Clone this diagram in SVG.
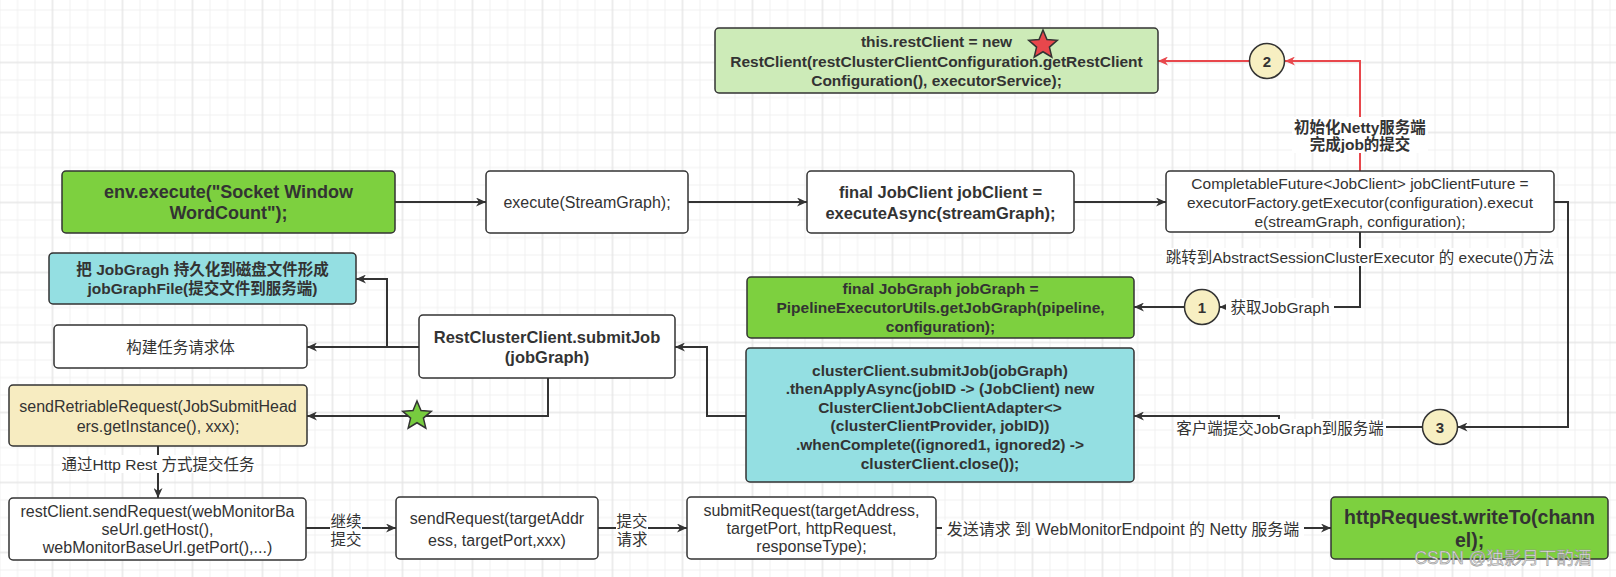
<svg xmlns="http://www.w3.org/2000/svg" width="1616" height="577" viewBox="0 0 1616 577">
<defs>
<pattern id="grid" x="52.5" y="62.5" width="70" height="70" patternUnits="userSpaceOnUse">
<path d="M17.5 0V70M35 0V70M52.5 0V70M0 17.5H70M0 35H70M0 52.5H70" stroke="#f0f0f0" stroke-width="1" fill="none"/>
<path d="M0 0V70M70 0V70M0 0H70M0 70H70" stroke="#e6e6e6" stroke-width="1.5" fill="none"/>
</pattern>
<marker id="arr" viewBox="0 0 10 9" refX="10" refY="4.5" markerWidth="10" markerHeight="9" markerUnits="userSpaceOnUse" orient="auto"><path d="M0 0L10 4.5L0 9L3 4.5Z" fill="#333"/></marker>
<marker id="arrRed" viewBox="0 0 10 9" refX="10" refY="4.5" markerWidth="10" markerHeight="9" markerUnits="userSpaceOnUse" orient="auto"><path d="M0 0L10 4.5L0 9L3 4.5Z" fill="#e8474c"/></marker>
<path id="star" d="M0 -15L3.97 -5.46L14.27 -4.64L6.42 2.09L8.82 12.14L0 6.75L-8.82 12.14L-6.42 2.09L-14.27 -4.64L-3.97 -5.46Z"/>
<style>
.box{stroke:#333;stroke-width:1.5}
.w{fill:#fff}
.g{fill:#7dd03f}
.cy{fill:#94dfe2}
.lg{fill:#cdebb8}
.y{fill:#f7ecc1}
.t{font-family:"Liberation Sans","Noto Sans CJK SC",sans-serif;fill:#333;text-anchor:middle;dominant-baseline:central;font-size:16px}
.b{font-weight:bold}
.c{fill:none;stroke:#333;stroke-width:2;marker-end:url(#arr)}
.r{fill:none;stroke:#e8474c;stroke-width:2;marker-end:url(#arrRed)}
.lbg{fill:#fff}
.lb{font-size:15.5px}
.circ{fill:#f7efc2;stroke:#333;stroke-width:1.5}
</style>
</defs>
<rect width="1616" height="577" fill="#fff"/>
<rect width="1616" height="577" fill="url(#grid)"/>

<g id="connectors">
<path class="c" d="M395 202H486"/>
<path class="c" d="M688 202H807"/>
<path class="c" d="M1074 202H1166"/>
<path class="c" d="M1360 232V307H1219.5"/>
<path class="c" d="M1184.5 307H1134"/>
<path class="c" d="M1554 202H1568V427H1457.5"/>
<path class="c" d="M1422.5 427H1279V416H1134"/>
<path class="c" d="M746 416H707V347H675"/>
<path class="c" d="M419 347H307"/>
<path class="c" d="M387 347V279H356"/>
<path class="c" d="M548 378V416H307"/>
<path class="c" d="M158 446V498"/>
<path class="c" d="M306 528H396"/>
<path class="c" d="M598 528H687"/>
<path class="c" d="M936 528H1331"/>
<path class="r" d="M1360 171V61H1285"/>
<path class="r" d="M1249 61H1158"/>
<g id="labels">
<rect class="lbg" x="1292" y="117" width="136" height="36"/>
<text class="t b lb" x="1360" y="127">初始化Netty服务端</text>
<text class="t b lb" x="1360" y="144">完成job的提交</text>
<rect class="lbg" x="1162" y="248" width="396" height="18"/>
<text class="t lb" x="1360" y="257">跳转到AbstractSessionClusterExecutor 的 execute()方法</text>
<rect class="lbg" x="1226" y="298" width="108" height="18"/>
<text class="t lb" x="1280" y="307">获取JobGraph</text>
<rect class="lbg" x="1174" y="419" width="212" height="18"/>
<text class="t lb" x="1280" y="428">客户端提交JobGraph到服务端</text>
<rect class="lbg" x="60" y="455" width="196" height="18"/>
<text class="t lb" x="158" y="464">通过Http Rest 方式提交任务</text>
<rect class="lbg" x="330" y="512" width="32" height="36"/>
<text class="t lb" x="346" y="521">继续</text>
<text class="t lb" x="346" y="539">提交</text>
<rect class="lbg" x="616" y="512" width="32" height="36"/>
<text class="t lb" x="632" y="521">提交</text>
<text class="t lb" x="632" y="539">请求</text>
<rect class="lbg" x="942" y="520" width="362" height="18"/>
<text class="t" x="1123" y="529">发送请求 到 WebMonitorEndpoint 的 Netty 服务端</text>
</g>
<use href="#star" x="417" y="416" fill="#77cc3f" stroke="#333" stroke-width="1.5"/>
</g>

<g id="n-restclient">
<rect class="box lg" x="715" y="28" width="443" height="65" rx="4"/>
<text class="t b" style="font-size:15.5px" x="936.5" y="41.5">this.restClient = new</text>
<text class="t b" style="font-size:15.5px" x="936.5" y="61">RestClient(restClusterClientConfiguration.getRestClient</text>
<text class="t b" style="font-size:15.5px" x="936.5" y="80.5">Configuration(), executorService);</text>
<use href="#star" x="1043" y="45" fill="#e8474c" stroke="#333" stroke-width="1.5"/>
</g>

<g id="n-env">
<rect class="box g" x="62" y="171" width="333" height="62" rx="4"/>
<text class="t b" style="font-size:18px" x="228.5" y="191.5">env.execute("Socket Window</text>
<text class="t b" style="font-size:18px" x="228.5" y="212.5">WordCount");</text>
</g>

<g id="n-execute">
<rect class="box w" x="486" y="171" width="202" height="62" rx="4"/>
<text class="t" x="587" y="202">execute(StreamGraph);</text>
</g>

<g id="n-jobclient">
<rect class="box w" x="807" y="171" width="267" height="62" rx="4"/>
<text class="t b" style="font-size:16.5px" x="940.5" y="192">final JobClient jobClient =</text>
<text class="t b" style="font-size:16.5px" x="940.5" y="213">executeAsync(streamGraph);</text>
</g>

<g id="n-future">
<rect class="box w" x="1166" y="171" width="388" height="61" rx="4"/>
<text class="t" style="font-size:15.5px" x="1360" y="183">CompletableFuture&lt;JobClient&gt; jobClientFuture =</text>
<text class="t" style="font-size:15.5px" x="1360" y="202">executorFactory.getExecutor(configuration).execut</text>
<text class="t" style="font-size:15.5px" x="1360" y="221">e(streamGraph, configuration);</text>
</g>

<g id="n-jobgraph">
<rect class="box g" x="747" y="277" width="387" height="61" rx="4"/>
<text class="t b" style="font-size:15.5px" x="940.5" y="288.5">final JobGraph jobGraph =</text>
<text class="t b" style="font-size:15.5px" x="940.5" y="307.5">PipelineExecutorUtils.getJobGraph(pipeline,</text>
<text class="t b" style="font-size:15.5px" x="940.5" y="326.5">configuration);</text>
</g>

<g id="n-cluster">
<rect class="box cy" x="746" y="348" width="388" height="134" rx="4"/>
<text class="t b" style="font-size:15.5px" x="940" y="370">clusterClient.submitJob(jobGraph)</text>
<text class="t b" style="font-size:15.5px" x="940" y="388.6">.thenApplyAsync(jobID -&gt; (JobClient) new</text>
<text class="t b" style="font-size:15.5px" x="940" y="407.2">ClusterClientJobClientAdapter&lt;&gt;</text>
<text class="t b" style="font-size:15.5px" x="940" y="425.8">(clusterClientProvider, jobID))</text>
<text class="t b" style="font-size:15.5px" x="940" y="444.4">.whenComplete((ignored1, ignored2) -&gt;</text>
<text class="t b" style="font-size:15.5px" x="940" y="463">clusterClient.close());</text>
</g>

<g id="n-submitjob">
<rect class="box w" x="419" y="315" width="256" height="63" rx="4"/>
<text class="t b" style="font-size:16.5px" x="547" y="336.5">RestClusterClient.submitJob</text>
<text class="t b" style="font-size:16.5px" x="547" y="356.5">(jobGraph)</text>
</g>

<g id="n-persist">
<rect class="box cy" x="49" y="253" width="307" height="51" rx="4"/>
<text class="t b" style="font-size:15.5px" x="202.5" y="269">把 JobGragh 持久化到磁盘文件形成</text>
<text class="t b" style="font-size:15.5px" x="202.5" y="288.5">jobGraphFile(提交文件到服务端)</text>
</g>

<g id="n-build">
<rect class="box w" x="54" y="325" width="253" height="43" rx="4"/>
<text class="t" style="font-size:15.5px" x="180.5" y="347">构建任务请求体</text>
</g>

<g id="n-retriable">
<rect class="box y" x="9" y="385" width="298" height="61" rx="4"/>
<text class="t" x="158" y="406.5">sendRetriableRequest(JobSubmitHead</text>
<text class="t" x="158" y="426">ers.getInstance(), xxx);</text>
</g>

<g id="n-sendreq1">
<rect class="box w" x="9" y="498" width="297" height="62" rx="4"/>
<text class="t" x="157.5" y="511">restClient.sendRequest(webMonitorBa</text>
<text class="t" x="157.5" y="529">seUrl.getHost(),</text>
<text class="t" x="157.5" y="547">webMonitorBaseUrl.getPort(),...)</text>
</g>

<g id="n-sendreq2">
<rect class="box w" x="396" y="497" width="202" height="62" rx="4"/>
<text class="t" x="497" y="518">sendRequest(targetAddr</text>
<text class="t" x="497" y="540">ess, targetPort,xxx)</text>
</g>

<g id="n-submitreq">
<rect class="box w" x="687" y="497" width="249" height="62" rx="4"/>
<text class="t" x="811.5" y="510">submitRequest(targetAddress,</text>
<text class="t" x="811.5" y="528">targetPort, httpRequest,</text>
<text class="t" x="811.5" y="546">responseType);</text>
</g>

<g id="n-write">
<rect class="box g" x="1331" y="497" width="277" height="62" rx="4"/>
<text class="t b" style="font-size:19.5px" x="1469.5" y="517">httpRequest.writeTo(chann</text>
<text class="t b" style="font-size:19.5px" x="1469.5" y="540">el);</text>
</g>

<g id="c1">
<circle class="circ" cx="1202" cy="307" r="17.5"/>
<text class="t b" style="font-size:15px" x="1202" y="307">1</text>
</g>
<g id="c2">
<circle class="circ" cx="1267" cy="61" r="17.5"/>
<text class="t b" style="font-size:15px" x="1267" y="61">2</text>
</g>
<g id="c3">
<circle class="circ" cx="1440" cy="427" r="17.5"/>
<text class="t b" style="font-size:15px" x="1440" y="427">3</text>
</g>

<text x="1503" y="558" style="font-family:'Liberation Sans','Noto Sans CJK SC',sans-serif;font-size:17.5px;text-anchor:middle;dominant-baseline:central" fill="#e2e2e2" stroke="#8c8c8c" stroke-width="0.5">CSDN @独影月下酌酒</text>
</svg>
